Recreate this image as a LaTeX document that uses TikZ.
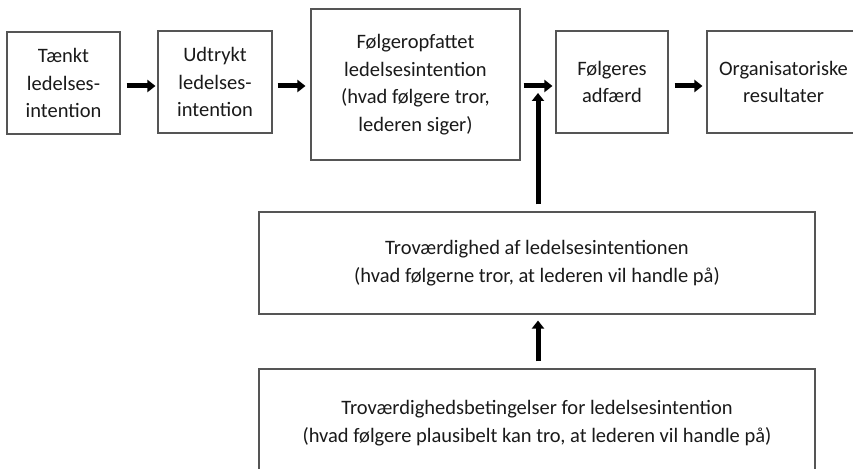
\documentclass[tikz,border=0pt]{standalone}
\usepackage{fontspec}
\setmainfont{Carlito}
\usetikzlibrary{arrows.meta}
\definecolor{edge}{HTML}{555555}
\definecolor{txt}{HTML}{1A1A1A}
\begin{document}
\begin{tikzpicture}[x=1pt,y=1pt,
  box/.style={draw=edge, line width=1.1pt, inner sep=0pt, align=center,
    text=txt, font=\fontsize{20.5}{27.5}\selectfont},
  flow/.style={line width=5pt, -{Triangle[length=8pt,width=12pt]}}]
\useasboundingbox (0,0) rectangle (853,468);
\fill[white] (0,0) rectangle (853,468);
\node[box, minimum width=113pt, minimum height=102pt] (b1) at (63.5,385) {Tænkt\\ledelses-\\intention};
\node[box, minimum width=114pt, minimum height=102pt] (b2) at (215,386) {Udtrykt\\ledelses-\\intention};
\node[box, minimum width=209pt, minimum height=151pt] (b3) at (415.5,383.5) {Følgeropfattet\\ledelsesintention\\(hvad følgere tror,\\lederen siger)};
\node[box, minimum width=112pt, minimum height=102pt] (b4) at (612,386) {Følgeres\\adfærd};
\node[box, minimum width=153pt, minimum height=102pt] (b5) at (783.5,386) {Organisatoriske\\resultater};
\node[box, minimum width=556pt, minimum height=102pt] (b6) at (537,205) {Troværdighed af ledelsesintentionen\\(hvad følgerne tror, at lederen vil handle på)};
\node[box, minimum width=556pt, minimum height=108pt] (b7) at (537,45) {Troværdighedsbetingelser for ledelsesintention\\(hvad følgere plausibelt kan tro, at lederen vil handle på)};
\coordinate (join) at (538,375);
\draw[flow, shorten <=6pt, shorten >=2pt] (b1.east |- 0,382) -- (b2.west |- 0,382);
\draw[flow, shorten <=5pt, shorten >=5pt] (b2.east |- 0,382) -- (b3.west |- 0,382);
\draw[flow, shorten <=3pt, shorten >=3pt] (b3.east |- 0,382) -- (b4.west |- 0,382);
\draw[flow, shorten <=6pt, shorten >=4pt] (b4.east |- 0,382) -- (b5.west |- 0,382);
\draw[flow, shorten <=7pt] (b6.north -| join) -- (join);
\draw[flow, shorten <=7pt, shorten >=6pt] (b7.north -| join) -- (b6.south -| join);
\end{tikzpicture}
\end{document}
